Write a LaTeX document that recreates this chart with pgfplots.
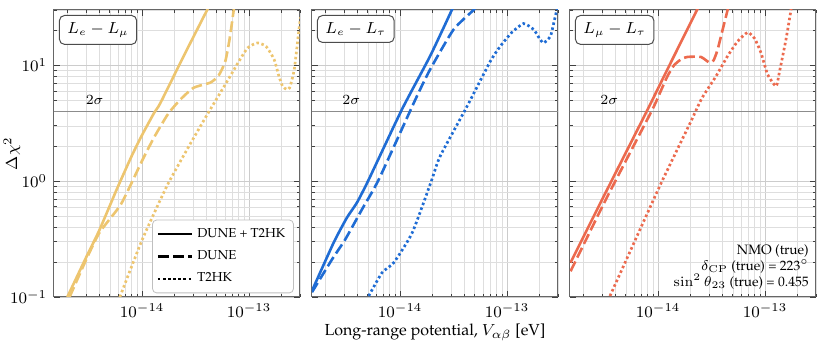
\documentclass[border=0pt]{standalone}
\usepackage[T1]{fontenc}
\renewcommand{\rmdefault}{ppl}
\usepackage{pgfplots}
\pgfplotsset{compat=1.18}

\definecolor{cgold}{HTML}{EDC56F}
\definecolor{cblue}{HTML}{1F6CD4}
\definecolor{ccoral}{HTML}{EC6A4E}

\tikzset{
  lnSolid/.style={line width=1.3pt, smooth, tension=0.35},
  lnDash/.style={lnSolid, dash pattern=on 5.4pt off 2.2pt},
  lnDot/.style={lnSolid, line width=1.35pt, dash pattern=on 1.25pt off 1.3pt},
  sigLine/.style={black!45, line width=0.5pt},
  tagBox/.style={draw=black!70, line width=0.5pt, rounded corners=2.5pt, fill=white,
    inner xsep=4pt, inner ysep=3.5pt, anchor=north west, font=\fontsize{7.8}{9}\selectfont},
}

\begin{document}
\begin{tikzpicture}
\path[use as bounding box] (0,0) rectangle (415.5pt,173.5pt);

% L_e - L_mu
\begin{axis}[name=p1, at={(27pt,25pt)}, anchor=south west,
    scale only axis, width=123pt, height=143.5pt,
    xmode=log, ymode=log,
    xmin=1.5e-15, xmax=3e-13, ymin=0.1, ymax=30,
    xtick={1e-14,1e-13}, ytick={0.1,1,10},
    minor xtick={2e-15,3e-15,4e-15,5e-15,6e-15,7e-15,8e-15,9e-15,2e-14,3e-14,4e-14,5e-14,6e-14,7e-14,8e-14,9e-14,2e-13,3e-13},
    minor ytick={0.2,0.3,0.4,0.5,0.6,0.7,0.8,0.9,2,3,4,5,6,7,8,9,20,30},
    grid=both,
    major grid style={black!20, line width=0.3pt},
    minor grid style={black!13, line width=0.3pt},
    tick align=inside, major tick length=3pt, minor tick length=1.6pt,
    tick style={black!75, line width=0.4pt},
    axis line style={black!60, line width=0.5pt},
    tick label style={font=\fontsize{8.2}{10}\selectfont},
    ylabel={$\Delta\chi^2$},
    ylabel style={font=\fontsize{8}{10}\selectfont,
      at={(axis description cs:-0.171,0.5)}, anchor=center},
    legend style={at={(0.975,0.013)}, anchor=south east, draw=black!25,
      rounded corners=2pt, fill=white, font=\fontsize{6.5}{8}\selectfont,
      inner sep=2pt, row sep=1.2pt, cells={anchor=west}}]
\addplot[sigLine, forget plot] coordinates {(1e-15,4) (1e-12,4)};
\node[font=\fontsize{7}{8}\selectfont] at (axis cs:3.6e-15,5.0) {$2\sigma$};
\addplot[lnSolid, cgold, forget plot] coordinates {
  (2.0e-15,0.1) (3.0e-15,0.22) (4.0e-15,0.38) (5.8e-15,0.85) (8e-15,1.65)
  (1e-14,2.5) (1.3e-14,3.9) (1.48e-14,4.7) (2.45e-14,12) (4.06e-14,30) (4.3e-14,33)};
\addplot[lnDash, cgold, forget plot] coordinates {
  (2.1e-15,0.1) (3.0e-15,0.21) (4.0e-15,0.36) (6.2e-15,0.61) (7.7e-15,0.9)
  (1e-14,1.5) (1.3e-14,2.4) (1.75e-14,3.8) (2.28e-14,5.06) (3.04e-14,6.4)
  (4.37e-14,7.1) (5.22e-14,8.2) (6.0e-14,10.8) (6.6e-14,17) (7.2e-14,30) (7.4e-14,36)};
\addplot[lnDot, cgold, forget plot] coordinates {
  (6.2e-15,0.1) (1e-14,0.31) (1.7e-14,0.9) (2.63e-14,1.87) (4.1e-14,3.8)
  (6.27e-14,7.3) (7.9e-14,10.5) (9.7e-14,14.1) (1.2e-13,15.6) (1.45e-13,14.5)
  (1.72e-13,11.2) (1.91e-13,8.0) (2.06e-13,6.6) (2.25e-13,6.2) (2.4e-13,6.4)
  (2.65e-13,9.2) (2.96e-13,21.7) (3.05e-13,26)};
\addlegendimage{black, line width=1.3pt}
\addlegendentry{DUNE + T2HK}
\addlegendimage{black, line width=1.3pt, dash pattern=on 5.4pt off 2.2pt}
\addlegendentry{DUNE}
\addlegendimage{black, line width=1.35pt, dash pattern=on 1.25pt off 1.3pt}
\addlegendentry{T2HK}
\node[tagBox] at (rel axis cs:0,1) [xshift=2.5pt, yshift=-2.5pt] {$L_e - L_\mu$};
\end{axis}

% L_e - L_tau
\begin{axis}[name=p2, at={(156pt,25pt)}, anchor=south west,
    scale only axis, width=123pt, height=143.5pt,
    xmode=log, ymode=log,
    xmin=1.5e-15, xmax=3e-13, ymin=0.1, ymax=30,
    xtick={1e-14,1e-13}, ytick={0.1,1,10}, yticklabels={},
    minor xtick={2e-15,3e-15,4e-15,5e-15,6e-15,7e-15,8e-15,9e-15,2e-14,3e-14,4e-14,5e-14,6e-14,7e-14,8e-14,9e-14,2e-13,3e-13},
    minor ytick={0.2,0.3,0.4,0.5,0.6,0.7,0.8,0.9,2,3,4,5,6,7,8,9,20,30},
    grid=both,
    major grid style={black!20, line width=0.3pt},
    minor grid style={black!13, line width=0.3pt},
    tick align=inside, major tick length=3pt, minor tick length=1.6pt,
    tick style={black!75, line width=0.4pt},
    axis line style={black!60, line width=0.5pt},
    tick label style={font=\fontsize{8.2}{10}\selectfont},
    xlabel={Long-range potential, $V_{\alpha\beta}$ [eV]},
    xlabel style={font=\fontsize{8}{10}\selectfont,
      at={(axis description cs:0.5,0)}, anchor=center, yshift=-17.5pt}]
\addplot[sigLine, forget plot] coordinates {(1e-15,4) (1e-12,4)};
\node[font=\fontsize{7}{8}\selectfont] at (axis cs:3.5e-15,5.0) {$2\sigma$};
\addplot[lnSolid, cblue, forget plot] coordinates {
  (1.5e-15,0.113) (2.39e-15,0.294) (3.18e-15,0.483) (3.95e-15,0.652) (5.09e-15,1.03)
  (1.04e-14,4.15) (1.91e-14,12) (3.05e-14,30) (3.3e-14,35)};
\addplot[lnDash, cblue, forget plot] coordinates {
  (1.5e-15,0.11) (2.31e-15,0.211) (3.07e-15,0.314) (4.4e-15,0.57) (6.31e-15,1.03)
  (1.39e-14,5.06) (1.91e-14,9.2) (3.16e-14,20.3) (4.87e-14,30) (5.2e-14,33)};
\addplot[lnDot, cblue, forget plot] coordinates {
  (5.09e-15,0.102) (6.78e-15,0.162) (8.73e-15,0.198) (1.3e-14,0.359) (1.96e-14,1.0)
  (2.37e-14,1.64) (4.22e-14,4.4) (6.98e-14,10.8) (8.66e-14,14.6) (1.11e-13,19.2)
  (1.43e-13,22.9) (1.78e-13,20.3) (2.0e-13,17.2) (2.2e-13,15.6) (2.55e-13,17.8)
  (2.74e-13,23.2) (2.9e-13,29) (3.05e-13,33)};
\node[tagBox] at (rel axis cs:0,1) [xshift=2.5pt, yshift=-2.5pt] {$L_e - L_\tau$};
\end{axis}

% L_mu - L_tau
\begin{axis}[name=p3, at={(285pt,25pt)}, anchor=south west,
    scale only axis, width=123pt, height=143.5pt,
    xmode=log, ymode=log,
    xmin=1.5e-15, xmax=3e-13, ymin=0.1, ymax=30,
    xtick={1e-14,1e-13}, ytick={0.1,1,10}, yticklabels={},
    minor xtick={2e-15,3e-15,4e-15,5e-15,6e-15,7e-15,8e-15,9e-15,2e-14,3e-14,4e-14,5e-14,6e-14,7e-14,8e-14,9e-14,2e-13,3e-13},
    minor ytick={0.2,0.3,0.4,0.5,0.6,0.7,0.8,0.9,2,3,4,5,6,7,8,9,20,30},
    grid=both,
    major grid style={black!20, line width=0.3pt},
    minor grid style={black!13, line width=0.3pt},
    tick align=inside, major tick length=3pt, minor tick length=1.6pt,
    tick style={black!75, line width=0.4pt},
    axis line style={black!60, line width=0.5pt},
    tick label style={font=\fontsize{8.2}{10}\selectfont}]
\addplot[sigLine, forget plot] coordinates {(1e-15,4) (1e-12,4)};
\node[font=\fontsize{7}{8}\selectfont] at (axis cs:3.5e-15,5.0) {$2\sigma$};
\addplot[lnSolid, ccoral, forget plot] coordinates {
  (1.52e-15,0.198) (3.0e-15,0.695) (7.83e-15,4) (1.2e-14,8.9) (2.31e-14,30) (2.5e-14,35)};
\addplot[lnDash, ccoral, forget plot] coordinates {
  (1.52e-15,0.167) (3.25e-15,0.695) (8.67e-15,4) (1.06e-14,6.0) (1.22e-14,8.0)
  (1.41e-14,10.0) (1.65e-14,11.3) (1.88e-14,11.8) (2.51e-14,11.8) (3.0e-14,10.6)
  (3.3e-14,11) (3.6e-14,13.6) (4.02e-14,20.3) (4.47e-14,30) (4.7e-14,36)};
\addplot[lnDot, ccoral, forget plot] coordinates {
  (3.55e-15,0.102) (1.02e-14,0.877) (2.0e-14,3.19) (2.57e-14,5.2)
  (3.47e-14,8.0) (4.47e-14,12) (5.55e-14,16.1) (6.89e-14,19.2) (8e-14,17)
  (9.18e-14,12.8) (1.06e-13,8.3) (1.27e-13,6.6) (1.36e-13,8.6) (1.57e-13,16.6)
  (1.75e-13,30) (1.8e-13,35)};
\node[tagBox] at (rel axis cs:0,1) [xshift=2.5pt, yshift=-2.5pt] {$L_\mu - L_\tau$};
\node[anchor=south east, align=right, inner sep=0pt,
  font=\fontsize{6.8}{8.1}\selectfont] at (rel axis cs:0.972,0.025)
  {NMO (true)\\ $\delta_{\rm CP}$ (true) = 223$^\circ$\\ $\sin^2\theta_{23}$ (true) = 0.455};
\end{axis}
\end{tikzpicture}
\end{document}
